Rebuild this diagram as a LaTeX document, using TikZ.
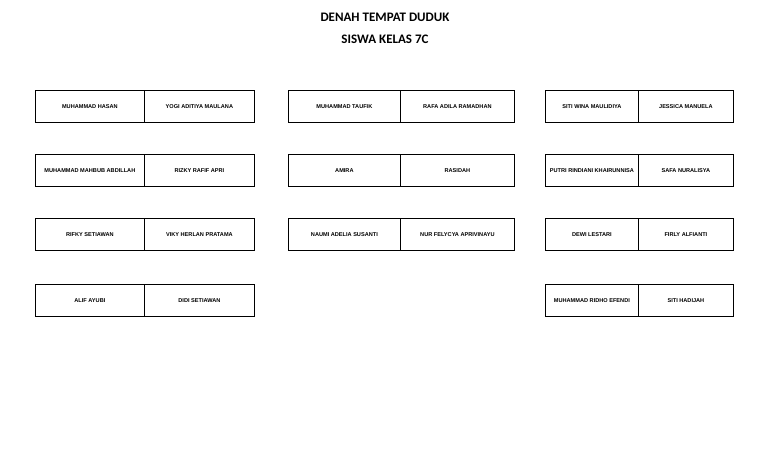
\documentclass[tikz,border=0pt]{standalone}
\usepackage{fontspec}
\setmainfont{Liberation Sans}
\newfontfamily\titlefont{Carlito}
\begin{document}
\begin{tikzpicture}[x=1pt,y=-1pt,
 seat/.style={draw,line width=0.8pt,anchor=north west,inner sep=0pt,font=\fontsize{5.6}{6}\selectfont\bfseries},
 ttl/.style={font=\titlefont\fontsize{13}{14}\selectfont\bfseries}]
\path[use as bounding box] (0,0) rectangle (768,466);
\node[ttl] (t1) at (385,17) {DENAH TEMPAT DUDUK};
\node[ttl] (t2) at (385,39) {SISWA KELAS 7C};
\newcommand\seatpair[7]{%
 \node[seat,minimum width=#3pt,minimum height=32pt] (#7a) at (#1,#2) {#5};
 \node[seat,minimum width=#4pt,minimum height=32pt] (#7b) at (#1+#3,#2) {#6};}
% group 1
\seatpair{35}{90}{109}{110}{MUHAMMAD HASAN}{YOGI ADITIYA MAULANA}{g11}
\seatpair{35}{154}{109}{110}{MUHAMMAD MAHBUB ABDILLAH}{RIZKY RAFIF APRI}{g12}
\seatpair{35}{218}{109}{110}{RIFKY SETIAWAN}{VIKY HERLAN PRATAMA}{g13}
\seatpair{35}{284}{109}{110}{ALIF AYUBI}{DIDI SETIAWAN}{g14}
% group 2
\seatpair{288}{90}{112}{114}{MUHAMMAD TAUFIK}{RAFA ADILA RAMADHAN}{g21}
\seatpair{288}{154}{112}{114}{AMIRA}{RASIDAH}{g22}
\seatpair{288}{218}{112}{114}{NAUMI ADELIA SUSANTI}{NUR FELYCYA APRIVINAYU}{g23}
% group 3
\seatpair{545}{90}{93}{95}{SITI WINA MAULIDIYA}{JESSICA MANUELA}{g31}
\seatpair{545}{154}{93}{95}{PUTRI RINDIANI KHAIRUNNISA}{SAFA NURALISYA}{g32}
\seatpair{545}{218}{93}{95}{DEWI LESTARI}{FIRLY ALFIANTI}{g33}
\seatpair{545}{284}{93}{95}{MUHAMMAD RIDHO EFENDI}{SITI HADIJAH}{g34}
\end{tikzpicture}
\end{document}
